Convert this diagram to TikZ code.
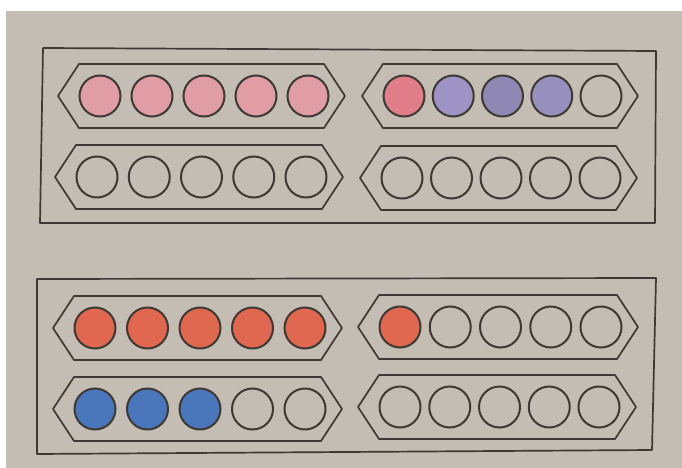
\documentclass[tikz,border=0pt]{standalone}
\definecolor{paper}{HTML}{C4BDB4}
\definecolor{ink}{HTML}{3F3934}
\definecolor{pinkA}{HTML}{E09DA5}
\definecolor{pinkB}{HTML}{E27E8A}
\definecolor{lilacA}{HTML}{9D93C4}
\definecolor{lilacB}{HTML}{8F87B4}
\definecolor{lilacC}{HTML}{978FBE}
\definecolor{redO}{HTML}{E06850}
\definecolor{blueB}{HTML}{4A76BC}
\tikzset{
  frame/.style={draw=ink, line width=1.7pt, line join=round},
  bead/.style={circle, draw=ink, line width=2pt, minimum size=41pt, inner sep=0pt},
}
\newcommand{\beadrow}[5]{%
  \draw[frame] (#2,#4) -- (#2+21,#4-32) -- (#3-21,#4-32) -- (#3,#4) -- (#3-21,#4+32) -- (#2+21,#4+32) -- cycle;
  \foreach \f [count=\i] in {#5} {
    \pgfmathsetmacro\cx{#2+42+(\i-1)*(#3-#2-79)/4}
    \node[bead, fill=\f] (#1-\i) at (\cx,#4) {};
  }%
}
\begin{document}
\begin{tikzpicture}[x=1pt,y=-1pt]
\useasboundingbox (0,0) rectangle (682,468);
\fill[white] (0,0) rectangle (682,468);
\fill[paper] (6,11) rectangle (682,468);
% top box
\draw[frame] (43,48) -- (656,51) -- (655,223) -- (40,223) -- cycle;
\beadrow{A}{58}{345}{96}{pinkA,pinkA,pinkA,pinkA,pinkA}
\beadrow{B}{55}{343}{177}{none,none,none,none,none}
\beadrow{C}{362}{638}{96}{pinkB,lilacA,lilacB,lilacC,none}
\beadrow{D}{360}{637}{178}{none,none,none,none,none}
% bottom box
\draw[frame] (37,279) -- (656,278) -- (652,450) -- (37,454) -- cycle;
\beadrow{E}{53}{342}{328}{redO,redO,redO,redO,redO}
\beadrow{F}{53}{342}{409}{blueB,blueB,blueB,none,none}
\beadrow{G}{358}{638}{327}{redO,none,none,none,none}
\beadrow{H}{358}{636}{407}{none,none,none,none,none}
\end{tikzpicture}
\end{document}
